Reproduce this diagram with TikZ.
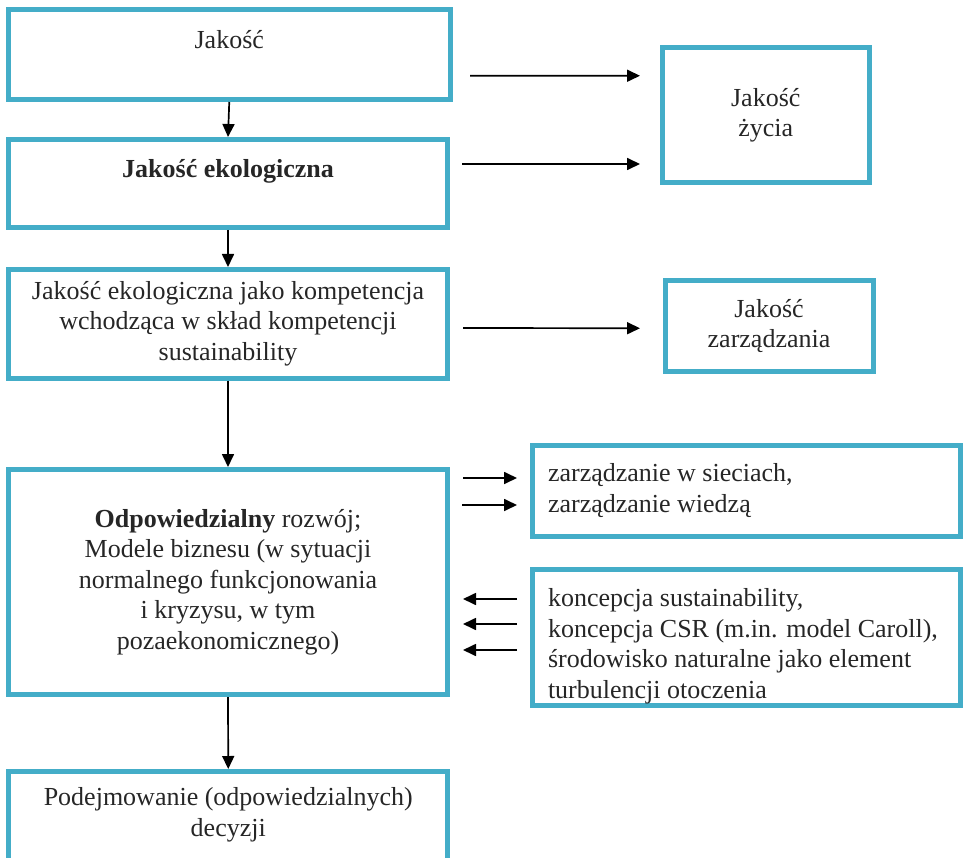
\documentclass[tikz,border=0pt]{standalone}
\usepackage{fontspec}
\setmainfont{Liberation Serif}
\usetikzlibrary{arrows.meta}
\definecolor{boxblue}{HTML}{44ADC8}
\tikzset{
	boxnode/.style = {
		align=center,
		inner sep=0pt,
		font=\fontsize{26}{30.5}\selectfont,
		draw=boxblue,
		line width=5pt,
		text=black!85
	},
	node_main/.style = {
		boxnode,
		minimum width=439pt
	},
	node_side/.style = {
		boxnode,
		minimum width=207pt
	},
	node_list/.style = {
		boxnode,
		align=flush left,
		text width=396pt,
		inner xsep=16pt,
		minimum width=428pt
	},
}
\begin{document}
\begin{tikzpicture}[x=1pt, y=-1pt, ->, >={Triangle[length=13pt,width=12pt]}, line width=1.7pt]
\useasboundingbox (0,0) rectangle (968,858);
\clip (0,0) rectangle (968,858);
% left column
\node [node_main, minimum width=441.5pt, minimum height=90pt] (jakosc) at (229.25,54.5) {Jakość\\~};
\node [node_main, minimum height=88pt] (ekol) at (228,183.5) {\textbf{Jakość ekologiczna}\\~};
\node [node_main, minimum height=108.5pt] (kompet) at (228,323.75) {Jakość ekologiczna jako kompetencja\\wchodząca w skład kompetencji\\sustainability};
\node [node_main, minimum height=225pt] (odpow) at (228,582) {\textbf{Odpowiedzialny} rozwój;\\Modele biznesu (w sytuacji\\normalnego funkcjonowania\\i kryzysu, w tym\\pozaekonomicznego)};
\node [node_main, minimum height=111pt] (decyzje) at (228.25,827) {Podejmowanie (odpowiedzialnych)\\decyzji\\~};
% right column
\node [node_side, minimum width=206.5pt, minimum height=135.5pt] (zycia) at (765.75,115.25) {Jakość\\życia};
\node [node_side, minimum width=208pt, minimum height=91pt] (zarzadzania) at (769,326) {Jakość\\zarządzania};
\node [node_list, minimum height=90.5pt] (sieci) at (746,490.75) {zarządzanie w sieciach,\\zarządzanie wiedzą};
\node [node_list, minimum height=136pt] (koncepcja) at (746,637.5) {\rule{0pt}{36pt}koncepcja sustainability,\\koncepcja CSR (m.in. model Caroll),\\środowisko naturalne jako element\\turbulencji otoczenia};
% arrows
\draw (jakosc.south) -- (ekol.north);
\draw (ekol.south) -- (kompet.north);
\draw (kompet.south) -- (odpow.north);
\draw (odpow.south) -- (decyzje.north);
\draw ([shift={(17.5,21.2)}]jakosc.east) -- ([shift={(-20,-39.5)}]zycia.west);
\draw ([shift={(12,-19.5)}]ekol.east) -- ([shift={(-20,48.75)}]zycia.west);
\draw ([shift={(13,4.25)}]kompet.east) -- ([shift={(-22.5,2.25)}]zarzadzania.west);
\draw ([shift={(13,-104)}]odpow.east) -- ([shift={(-12.5,-12.75)}]sieci.west);
\draw ([shift={(12,-77)}]odpow.east) -- ([shift={(-12.5,14.25)}]sieci.west);
\draw ([shift={(-12.5,-38.5)}]koncepcja.west) -- ([shift={(13,17)}]odpow.east);
\draw ([shift={(-12.5,-13.5)}]koncepcja.west) -- ([shift={(13,42)}]odpow.east);
\draw ([shift={(-12.5,12.5)}]koncepcja.west) -- ([shift={(13,68)}]odpow.east);
\end{tikzpicture}
\end{document}
